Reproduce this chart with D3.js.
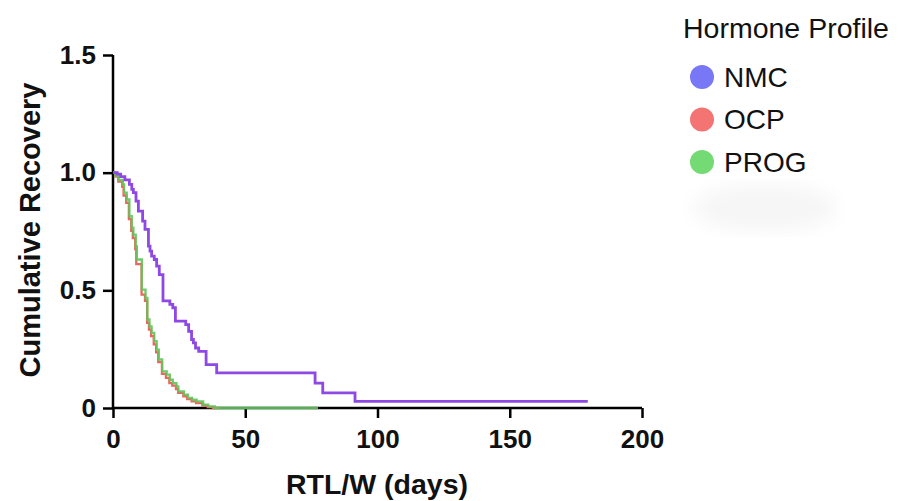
<!DOCTYPE html>
<html>
<head>
<meta charset="utf-8">
<script src="https://cdn.jsdelivr.net/npm/d3@7/dist/d3.min.js"></script>
<style>
  html, body { margin: 0; padding: 0; background: #ffffff; }
  svg { display: block; font-family: "Liberation Sans", Arial, Helvetica, sans-serif; }
</style>
</head>
<body>
<svg id="chart" width="898" height="501"></svg>
<script>
// ---- Data ----
const seriesNames = ["NMC", "OCP", "PROG"];

const nmcTimes  = [0, 1.6, 2.9, 4.5, 6.2, 7.1, 7.7, 8.7, 9.6, 11.2, 12.1, 13.4, 14.0, 14.6, 15.6, 16.5, 17.5, 18.9, 21.5, 22.6, 23.6, 27.5, 28.6, 29.7, 30.4, 31.2, 32.4, 35.2, 39.2, 76.4, 79.3, 91.5, 179.5];
const nmcValues = [1.0, 0.994, 0.983, 0.969, 0.950, 0.929, 0.915, 0.879, 0.837, 0.794, 0.759, 0.688, 0.667, 0.645, 0.631, 0.603, 0.567, 0.455, 0.440, 0.426, 0.369, 0.354, 0.326, 0.291, 0.277, 0.255, 0.241, 0.184, 0.149, 0.106, 0.064, 0.028, 0.028];

const ocpTimes  = [0, 0.8, 2.0, 3.5, 4.0, 5.0, 6.0, 6.9, 7.5, 8.4, 8.8, 10.8, 12.1, 12.9, 13.6, 14.4, 15.4, 16.3, 17.1, 18.5, 20.0, 21.3, 22.4, 23.8, 24.6, 26.6, 28.0, 29.7, 31.4, 33.8, 35.8, 37.8, 40.0];
const ocpValues = [1.0, 0.983, 0.962, 0.940, 0.903, 0.872, 0.803, 0.753, 0.722, 0.675, 0.611, 0.482, 0.455, 0.362, 0.333, 0.305, 0.270, 0.236, 0.195, 0.145, 0.128, 0.106, 0.095, 0.080, 0.064, 0.050, 0.038, 0.028, 0.021, 0.010, 0.004, 0, 0];

const progTimes  = [0, 0.8, 2.0, 3.7, 4.2, 5.2, 6.2, 7.1, 7.7, 8.6, 9.0, 10.9, 12.3, 13.0, 13.8, 14.6, 15.6, 16.5, 17.3, 18.6, 20.3, 21.5, 22.6, 24.0, 24.7, 26.8, 28.3, 29.9, 31.6, 34.1, 36.0, 38.5, 77.5];
const progValues = [1.0, 0.986, 0.969, 0.950, 0.915, 0.886, 0.815, 0.766, 0.737, 0.688, 0.631, 0.503, 0.468, 0.376, 0.347, 0.319, 0.284, 0.248, 0.206, 0.156, 0.142, 0.120, 0.106, 0.092, 0.071, 0.057, 0.043, 0.035, 0.028, 0.014, 0.007, 0, 0];

const xTicks = [0, 50, 100, 150, 200];
const yTicks = [0, 0.5, 1.0, 1.5];
const yTickLabels = ["0", "0.5", "1.0", "1.5"];

const lineColors = { NMC: "#8e48e4", OCP: "#ec6660", PROG: "#5fc45a" };
const legendColors = { NMC: "#7878f6", OCP: "#f47474", PROG: "#74da74" };

// ---- Layout ----
const svg = d3.select("#chart");
const plotLeft = 113, plotRight = 642, plotTop = 55, plotBottom = 408;

const x = d3.scaleLinear().domain([0, 200]).range([plotLeft, plotRight]);
const y = d3.scaleLinear().domain([0, 1.5]).range([plotBottom, plotTop]);

// faint smudge below legend
const defs = svg.append("defs");
defs.append("filter").attr("id", "blur").append("feGaussianBlur").attr("stdDeviation", 9);
svg.append("ellipse").attr("cx", 765).attr("cy", 208).attr("rx", 72).attr("ry", 24)
  .attr("fill", "#f6f6f6").attr("filter", "url(#blur)");

// ---- Axes ----
const xAxis = d3.axisBottom(x).tickValues(xTicks).tickSize(10).tickPadding(12).tickFormat(d3.format("d"));
const yAxis = d3.axisLeft(y).tickValues(yTicks).tickSize(10).tickPadding(7)
  .tickFormat((d, i) => yTickLabels[i]);

const gx = svg.append("g").attr("transform", `translate(0,${plotBottom})`).call(xAxis);
const gy = svg.append("g").attr("transform", `translate(${plotLeft},0)`).call(yAxis);

[gx, gy].forEach(g => {
  g.select(".domain").attr("stroke", "#000").attr("stroke-width", 2.5);
  g.selectAll(".tick line").attr("stroke", "#000").attr("stroke-width", 2.5);
  g.selectAll(".tick text").attr("fill", "#111").attr("font-size", 26).attr("font-weight", "bold")
    .attr("font-family", "'Liberation Sans', Arial, sans-serif");
});
gx.select(".domain").attr("d", `M${plotLeft},0H${plotRight}`);
gy.select(".domain").attr("d", `M0,${plotTop}V${plotBottom}`);

// axis titles
svg.append("text").attr("x", 377).attr("y", 494)
  .attr("text-anchor", "middle").attr("font-size", 28.5).attr("font-weight", "bold").attr("fill", "#111")
  .text("RTL/W (days)");
svg.append("text").attr("transform", "translate(40,230) rotate(-90)")
  .attr("text-anchor", "middle").attr("font-size", 29).attr("font-weight", "bold").attr("fill", "#111")
  .text("Cumulative Recovery");

// ---- Step curves ----
const line = d3.line().x(d => x(d[0])).y(d => y(d[1])).curve(d3.curveStepAfter);
const makePts = (ts, vs) => ts.map((t, i) => [t, vs[i]]);

const series = [
  { name: "OCP", pts: makePts(ocpTimes, ocpValues), w: 2.3 },
  { name: "PROG", pts: makePts(progTimes, progValues), w: 2.3 },
  { name: "NMC", pts: makePts(nmcTimes, nmcValues), w: 2.8 }
];

svg.append("g").selectAll("path").data(series).join("path")
  .attr("d", d => line(d.pts))
  .attr("fill", "none")
  .attr("stroke", d => lineColors[d.name])
  .attr("stroke-width", d => d.w)
  .attr("stroke-opacity", d => d.name === "PROG" ? 0.9 : 1);

// ---- Legend ----
const lg = svg.append("g");
lg.append("text").attr("x", 683).attr("y", 38).attr("font-size", 28.5)
  .attr("font-family", "'Liberation Sans', Arial, sans-serif").attr("fill", "#111")
  .text("Hormone Profile");
const items = lg.selectAll("g.item").data(seriesNames).join("g")
  .attr("transform", (d, i) => `translate(702,${77 + i * 42.5})`);
items.append("circle").attr("r", 12).attr("fill", d => legendColors[d]);
items.append("text").attr("x", 22).attr("y", 9.5).attr("font-size", 28)
  .attr("fill", "#111").text(d => d);
</script>
</body>
</html>
